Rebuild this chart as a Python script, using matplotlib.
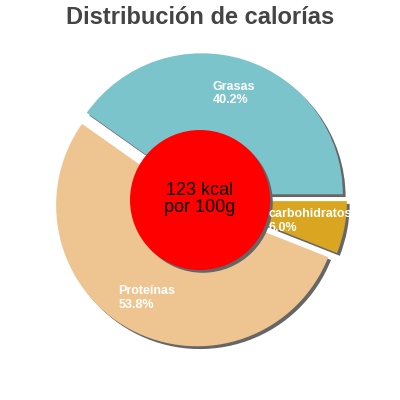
import matplotlib
matplotlib.use("Agg")
import matplotlib.pyplot as plt
import matplotlib.patheffects as pe
from matplotlib.patches import Circle

plt.rcParams['font.family'] = ['Liberation Sans', 'DejaVu Sans']

nutrients = ["Grasas", "Proteínas", "carbohidratos"]
percents = [40.2, 53.8, 6.0]
colors = ["#7cc4cc", "#eec591", "#daa520"]
kcal = 123

fig = plt.figure(figsize=(4, 4), dpi=100)
ax = fig.add_axes([0, 0, 1, 1])

shadow = [pe.SimplePatchShadow(offset=(2, -2), shadow_rgbFace='#666666', alpha=1.0), pe.Normal()]

labels = [f"{n}\n{p:.1f}%" for n, p in zip(nutrients, percents)]
wedges, texts = ax.pie(percents, labels=labels, colors=colors, startangle=0,
                       counterclock=True, center=(200, 200), radius=141,
                       explode=[6] * len(percents), labeldistance=0.75,
                       wedgeprops=dict(linewidth=0),
                       textprops=dict(color='white', fontsize=9, fontweight='bold'),
                       frame=True)
ax.set_xlim(0, 400)
ax.set_ylim(0, 400)
ax.set_aspect('equal')
ax.axis('off')
for w in wedges:
    w.set_path_effects(shadow)
for t in texts:
    t.set_ha('center')
    t.set_va('center')
    t.set_multialignment('left')
    t.set_linespacing(1.2)
    t.set_zorder(5)

hole = Circle((200, 200), 70, facecolor='#ff0000', edgecolor='none', zorder=3)
hole.set_path_effects(shadow)
ax.add_patch(hole)
ax.text(200, 201, f"{kcal} kcal\npor 100g", ha='center', va='center',
        fontsize=13, color='black', zorder=4, linespacing=1.0)

fig.text(0.5, 1 - 17 / 400, "Distribución de calorías", ha='center', va='center',
         fontsize=17, fontweight='bold', color='#444444')

fig.savefig("out.png", dpi=100)
